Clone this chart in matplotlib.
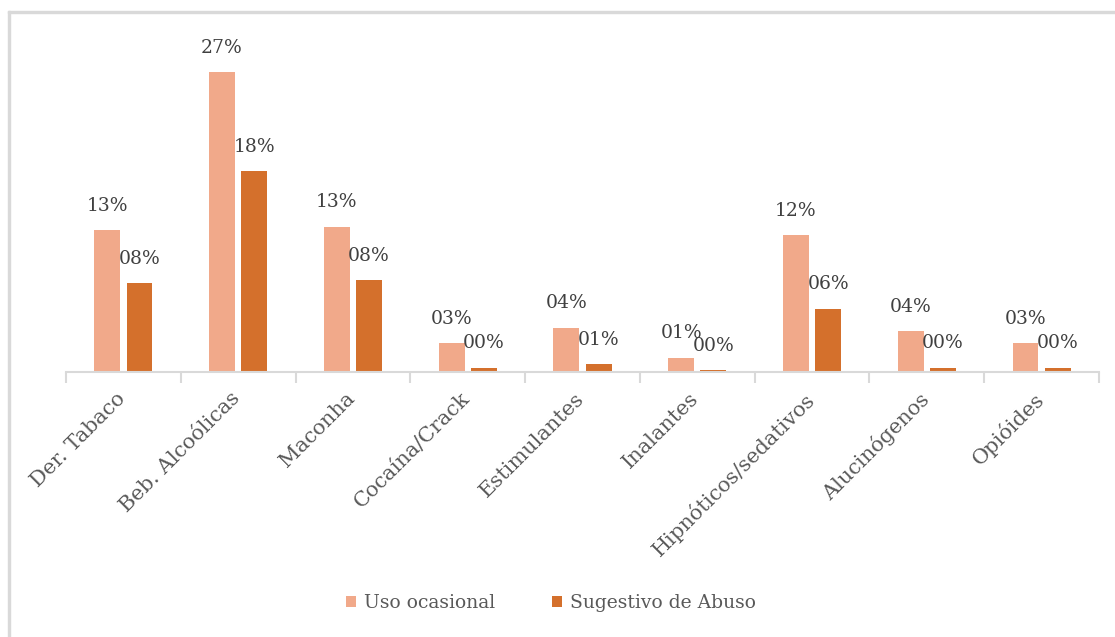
import matplotlib.pyplot as plt
import matplotlib.transforms as mtransforms
import numpy as np
from matplotlib.patches import Rectangle

categorias = ["Der. Tabaco", "Beb. Alcoólicas", "Maconha", "Cocaína/Crack",
              "Estimulantes", "Inalantes", "Hipnóticos/sedativos",
              "Alucinógenos", "Opióides"]
uso_ocasional = [12.8, 27.0, 13.1, 2.6, 4.0, 1.3, 12.3, 3.7, 2.6]
sugestivo_abuso = [8.0, 18.1, 8.3, 0.4, 0.7, 0.2, 5.7, 0.4, 0.4]

cor_uso = "#f1a98a"
cor_abuso = "#d4702c"
cinza = "#595959"
plt.rcParams["font.family"] = ["DejaVu Serif"]

W, H = 1115, 637
fig = plt.figure(figsize=(W / 100, H / 100), dpi=100)
# moldura cinza (só topo e esquerda aparecem no recorte)
fig.patches.append(Rectangle((8 / W, 0), 2 / W, 1 - 11 / H, transform=fig.transFigure,
                             color="#d9d9d9", zorder=0))
fig.patches.append(Rectangle((8 / W, 1 - 13 / H), 1, 2 / H, transform=fig.transFigure,
                             color="#d9d9d9", zorder=0))

ax = fig.add_axes([66 / W, 1 - 372 / H, (1099 - 66) / W, (372 - 39) / H])
x = np.arange(len(categorias))
w = 0.226
gap = 0.055
b1 = ax.bar(x - (w + gap) / 2, uso_ocasional, w, color=cor_uso, label="Uso ocasional")
b2 = ax.bar(x + (w + gap) / 2, sugestivo_abuso, w, color=cor_abuso, label="Sugestivo de Abuso")

for bars, vals in ((b1, uso_ocasional), (b2, sugestivo_abuso)):
    for r, v in zip(bars, vals):
        ax.annotate(f"{int(round(v)):02d}%", (r.get_x() + r.get_width() / 2, v),
                    xytext=(0, 11), textcoords="offset points", ha="center", va="bottom",
                    fontsize=13.5, color="#404040")

ax.set_xlim(-0.5, len(categorias) - 0.5)
ax.set_ylim(0, 30)
ax.set_yticks([])
for s in ("top", "right", "left"):
    ax.spines[s].set_visible(False)
ax.spines["bottom"].set_color("#d9d9d9")
ax.spines["bottom"].set_linewidth(1.5)
ax.set_xticks(np.arange(len(categorias) + 1) - 0.5, minor=True)
ax.set_xticks(x)
ax.set_xticklabels(categorias, rotation=45, ha="right", rotation_mode="anchor",
                   fontsize=15, color=cinza)
ax.tick_params(axis="x", which="major", length=0, pad=12)
ax.tick_params(axis="x", which="minor", length=8, width=1.5, color="#d9d9d9")
desloca = mtransforms.ScaledTranslation(-8 / 100, 0, fig.dpi_scale_trans)
for t in ax.get_xticklabels():
    t.set_transform(t.get_transform() + desloca)

fig.legend(handles=[b1, b2], loc="center", bbox_to_anchor=(551 / W, 1 - 603 / H), ncol=2,
           frameon=False, fontsize=13.5, labelcolor=cinza, handlelength=0.55,
           handleheight=0.55, handletextpad=0.45, columnspacing=3.0)

fig.savefig("out.png", dpi=100, facecolor="white")
